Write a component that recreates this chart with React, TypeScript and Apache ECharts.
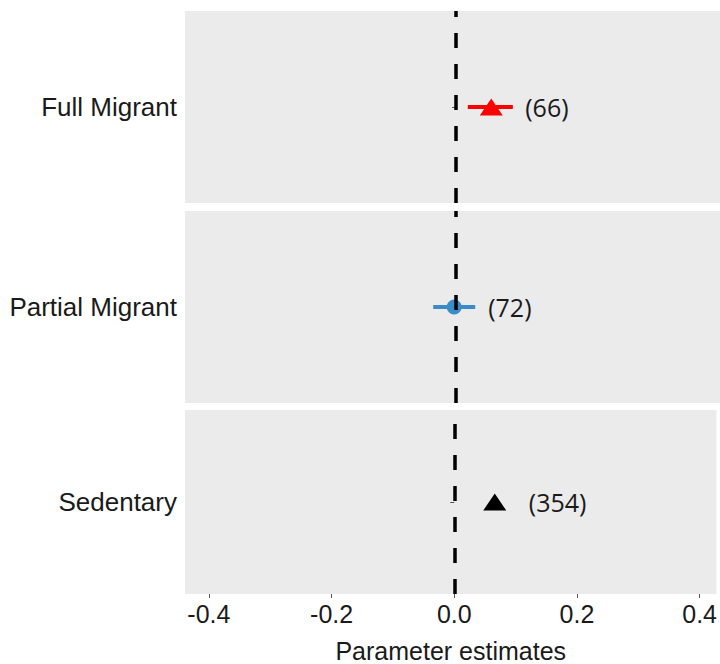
import React, { useEffect, useRef } from "react";
import * as echarts from "echarts";

const categories = ["Full Migrant", "Partial Migrant", "Sedentary"];
const estimates = [0.057, -0.003, 0.066];
const lower = [0.019, -0.037, 0.06];
const upper = [0.092, 0.031, 0.072];
const counts = ["(66)", "(72)", "(354)"];
const xTicks = [-0.4, -0.2, 0.0, 0.2, 0.4];

const colors = ["#ff0000", "#3a8cc8", "#000000"];
const symbols = ["triangle", "circle", "triangle"];
const symbolSizes: any[] = [[23, 17], 15, [23, 17]];
const panelTops = [11, 211, 410];
const panelHeight = 192;
const X_MIN = -0.439;
const X_MAX = 0.4275;

export default function App() {
  const ref = useRef<HTMLDivElement>(null);
  useEffect(() => {
    if (!ref.current) return;
    const chart = echarts.init(ref.current, undefined, { renderer: "svg" });
    const grids: any[] = [];
    const xAxes: any[] = [];
    const yAxes: any[] = [];
    const series: any[] = [];
    categories.forEach((cat, i) => {
      const isBottom = i === categories.length - 1;
      grids.push({
        left: 185,
        right: 0,
        top: panelTops[i],
        height: panelHeight,
        show: true,
        backgroundColor: "#ebebeb",
        borderWidth: 0,
      });
      xAxes.push({
        type: "value",
        gridIndex: i,
        min: X_MIN,
        max: X_MAX,
        show: isBottom,
        splitLine: { show: false },
        axisLine: { show: false },
        axisTick: {
          show: true,
          length: 4,
          customValues: xTicks,
          lineStyle: { color: "#555", width: 1 },
        },
        axisLabel: {
          show: true,
          customValues: xTicks,
          margin: 7,
          fontSize: 25,
          fontFamily: "Liberation Sans, Arial, sans-serif",
          color: "#1a1a1a",
          formatter: (v: number) => v.toFixed(1),
        },
        name: isBottom ? "Parameter estimates" : "",
        nameLocation: "middle",
        nameGap: 44,
        nameTextStyle: {
          fontSize: 25,
          fontFamily: "Liberation Sans, Arial, sans-serif",
          color: "#1a1a1a",
        },
      });
      yAxes.push({
        type: "category",
        gridIndex: i,
        data: [cat],
        axisLine: { show: false },
        axisTick: { show: true, length: 4, lineStyle: { color: "#555", width: 1 }, alignWithLabel: true },
        splitLine: { show: false },
        axisLabel: {
          margin: 8,
          fontSize: 26,
          fontFamily: "Liberation Sans, Arial, sans-serif",
          color: "#1a1a1a",
        },
      });
      series.push({
        type: "custom",
        xAxisIndex: i,
        yAxisIndex: i,
        silent: true,
        z: 2,
        encode: { x: [0, 1], y: 2 },
        data: [[lower[i], upper[i], cat]],
        renderItem: (params: any, api: any) => {
          const p1 = api.coord([api.value(0), 0]);
          const p2 = api.coord([api.value(1), 0]);
          return {
            type: "line",
            shape: { x1: p1[0], y1: p1[1], x2: p2[0], y2: p2[1] },
            style: { stroke: colors[i], lineWidth: 4 },
          };
        },
      });
      series.push({
        type: "scatter",
        xAxisIndex: i,
        yAxisIndex: i,
        silent: true,
        z: 3,
        symbol: symbols[i],
        symbolSize: symbolSizes[i],
        itemStyle: { color: colors[i], opacity: 1 },
        data: [[estimates[i], cat]],
        label: {
          show: true,
          position: "inside",
          align: "left",
          verticalAlign: "middle",
          offset: [34, 0],
          formatter: () => counts[i],
          fontSize: 25,
          fontFamily: "Open Sans, sans-serif",
          color: "#1a1a1a",
        },
      });
      series.push({
        type: "line",
        xAxisIndex: i,
        yAxisIndex: i,
        silent: true,
        z: 5,
        data: [],
        markLine: {
          silent: true,
          symbol: ["none", "none"],
          label: { show: false },
          lineStyle: { color: "#000", width: 3.5, type: [15, 16], dashOffset: 0 },
          data: [{ xAxis: 0 }],
        },
      });
    });
    chart.setOption({
      animation: false,
      backgroundColor: "#ffffff",
      grid: grids,
      xAxis: xAxes,
      yAxis: yAxes,
      series,
    });
    return () => chart.dispose();
  }, []);
  return (
    <div
      ref={ref}
      style={{ position: "fixed", left: 0, top: 0, width: 720, height: 664 }}
    />
  );
}
